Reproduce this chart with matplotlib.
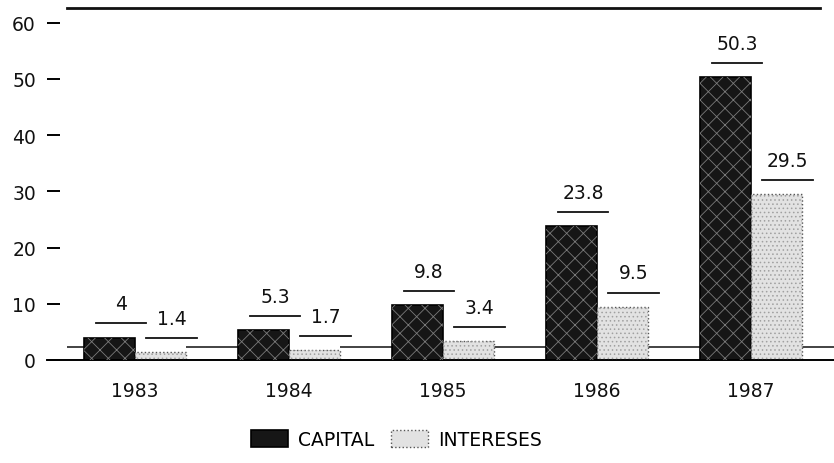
import matplotlib
matplotlib.use("Agg")
import matplotlib.pyplot as plt
import numpy as np

years = ["1983", "1984", "1985", "1986", "1987"]
capital = [4, 5.3, 9.8, 23.8, 50.3]
intereses = [1.4, 1.7, 3.4, 9.5, 29.5]
capital_labels = ["4", "5.3", "9.8", "23.8", "50.3"]
intereses_labels = ["1.4", "1.7", "3.4", "9.5", "29.5"]
yticks = [0, 10, 20, 30, 40, 50, 60]

plt.rcParams['font.family'] = ['DejaVu Sans']
plt.rcParams['hatch.linewidth'] = 0.6

fig = plt.figure(figsize=(8.34, 4.64), dpi=100)
ax = fig.add_axes([47/834, (464-361)/464, 787/834, 352/464])

x = np.arange(len(years))
w = 0.33
xc = x - w/2
xi = x + w/2

# back "floor" segments between groups
floor = 2.3
xl = -0.571
xr = 4.54
segs_start = [xl + 0.13] + list(xi + w/2)
segs_end = list(xc - w/2) + [xr]
ax.hlines([floor]*len(segs_start), segs_start, segs_end, colors='#222222', lw=1.2, zorder=1)

b1 = ax.bar(xc, capital, w, color='#161616', edgecolor='#000000', lw=1.2, zorder=2, label='CAPITAL')
ax.bar(xc, capital, w, facecolor='none', edgecolor='#7a7a7a', hatch='xx', lw=0, zorder=3)
b2 = ax.bar(xi, intereses, w, color='#e2e2e2', edgecolor='#555555', lw=1.0, ls=':', zorder=2, label='INTERESES')
ax.bar(xi, intereses, w, facecolor='none', edgecolor='#a0a0a0', hatch='....', lw=0, zorder=3)

dx = 0.075
dy = 2.5
for xs, vals, labs in ((xc, capital, capital_labels), (xi, intereses, intereses_labels)):
    for xv, v, lab in zip(xs, vals, labs):
        ax.plot([xv - w/2 + dx, xv + w/2 + dx], [v + dy, v + dy], color='#111111', lw=1.3, zorder=4)
        ax.text(xv + dx, v + dy + 1.8, lab, ha='center', va='bottom', fontsize=13.5, color='#111111')

ax.set_xlim(xl, xr)
ax.set_ylim(0, 62.6)
ax.set_yticks(yticks)
ax.set_yticklabels([str(t) for t in yticks], fontsize=13.5, color='#111111')
ax.set_xticks(x)
ax.set_xticklabels(years, fontsize=13.5, color='#111111')
ax.tick_params(axis='x', length=0, pad=15)
ax.tick_params(axis='y', direction='in', length=9, width=1.4, pad=8)
for s in ('top', 'right', 'left'):
    ax.spines[s].set_visible(False)
ax.spines['bottom'].set_linewidth(1.4)
ax.plot([0.025, 0.982], [1, 1], transform=ax.transAxes, color='#111111', lw=2.0, clip_on=False)

fig.legend(handles=[b1, b2], labels=['CAPITAL', 'INTERESES'], loc='center',
           bbox_to_anchor=(0.475, 0.05), ncol=2, frameon=False, fontsize=13.5,
           handlelength=2.0, handleheight=1.0, columnspacing=0.9, handletextpad=0.5)

fig.savefig("out.png", dpi=100)
